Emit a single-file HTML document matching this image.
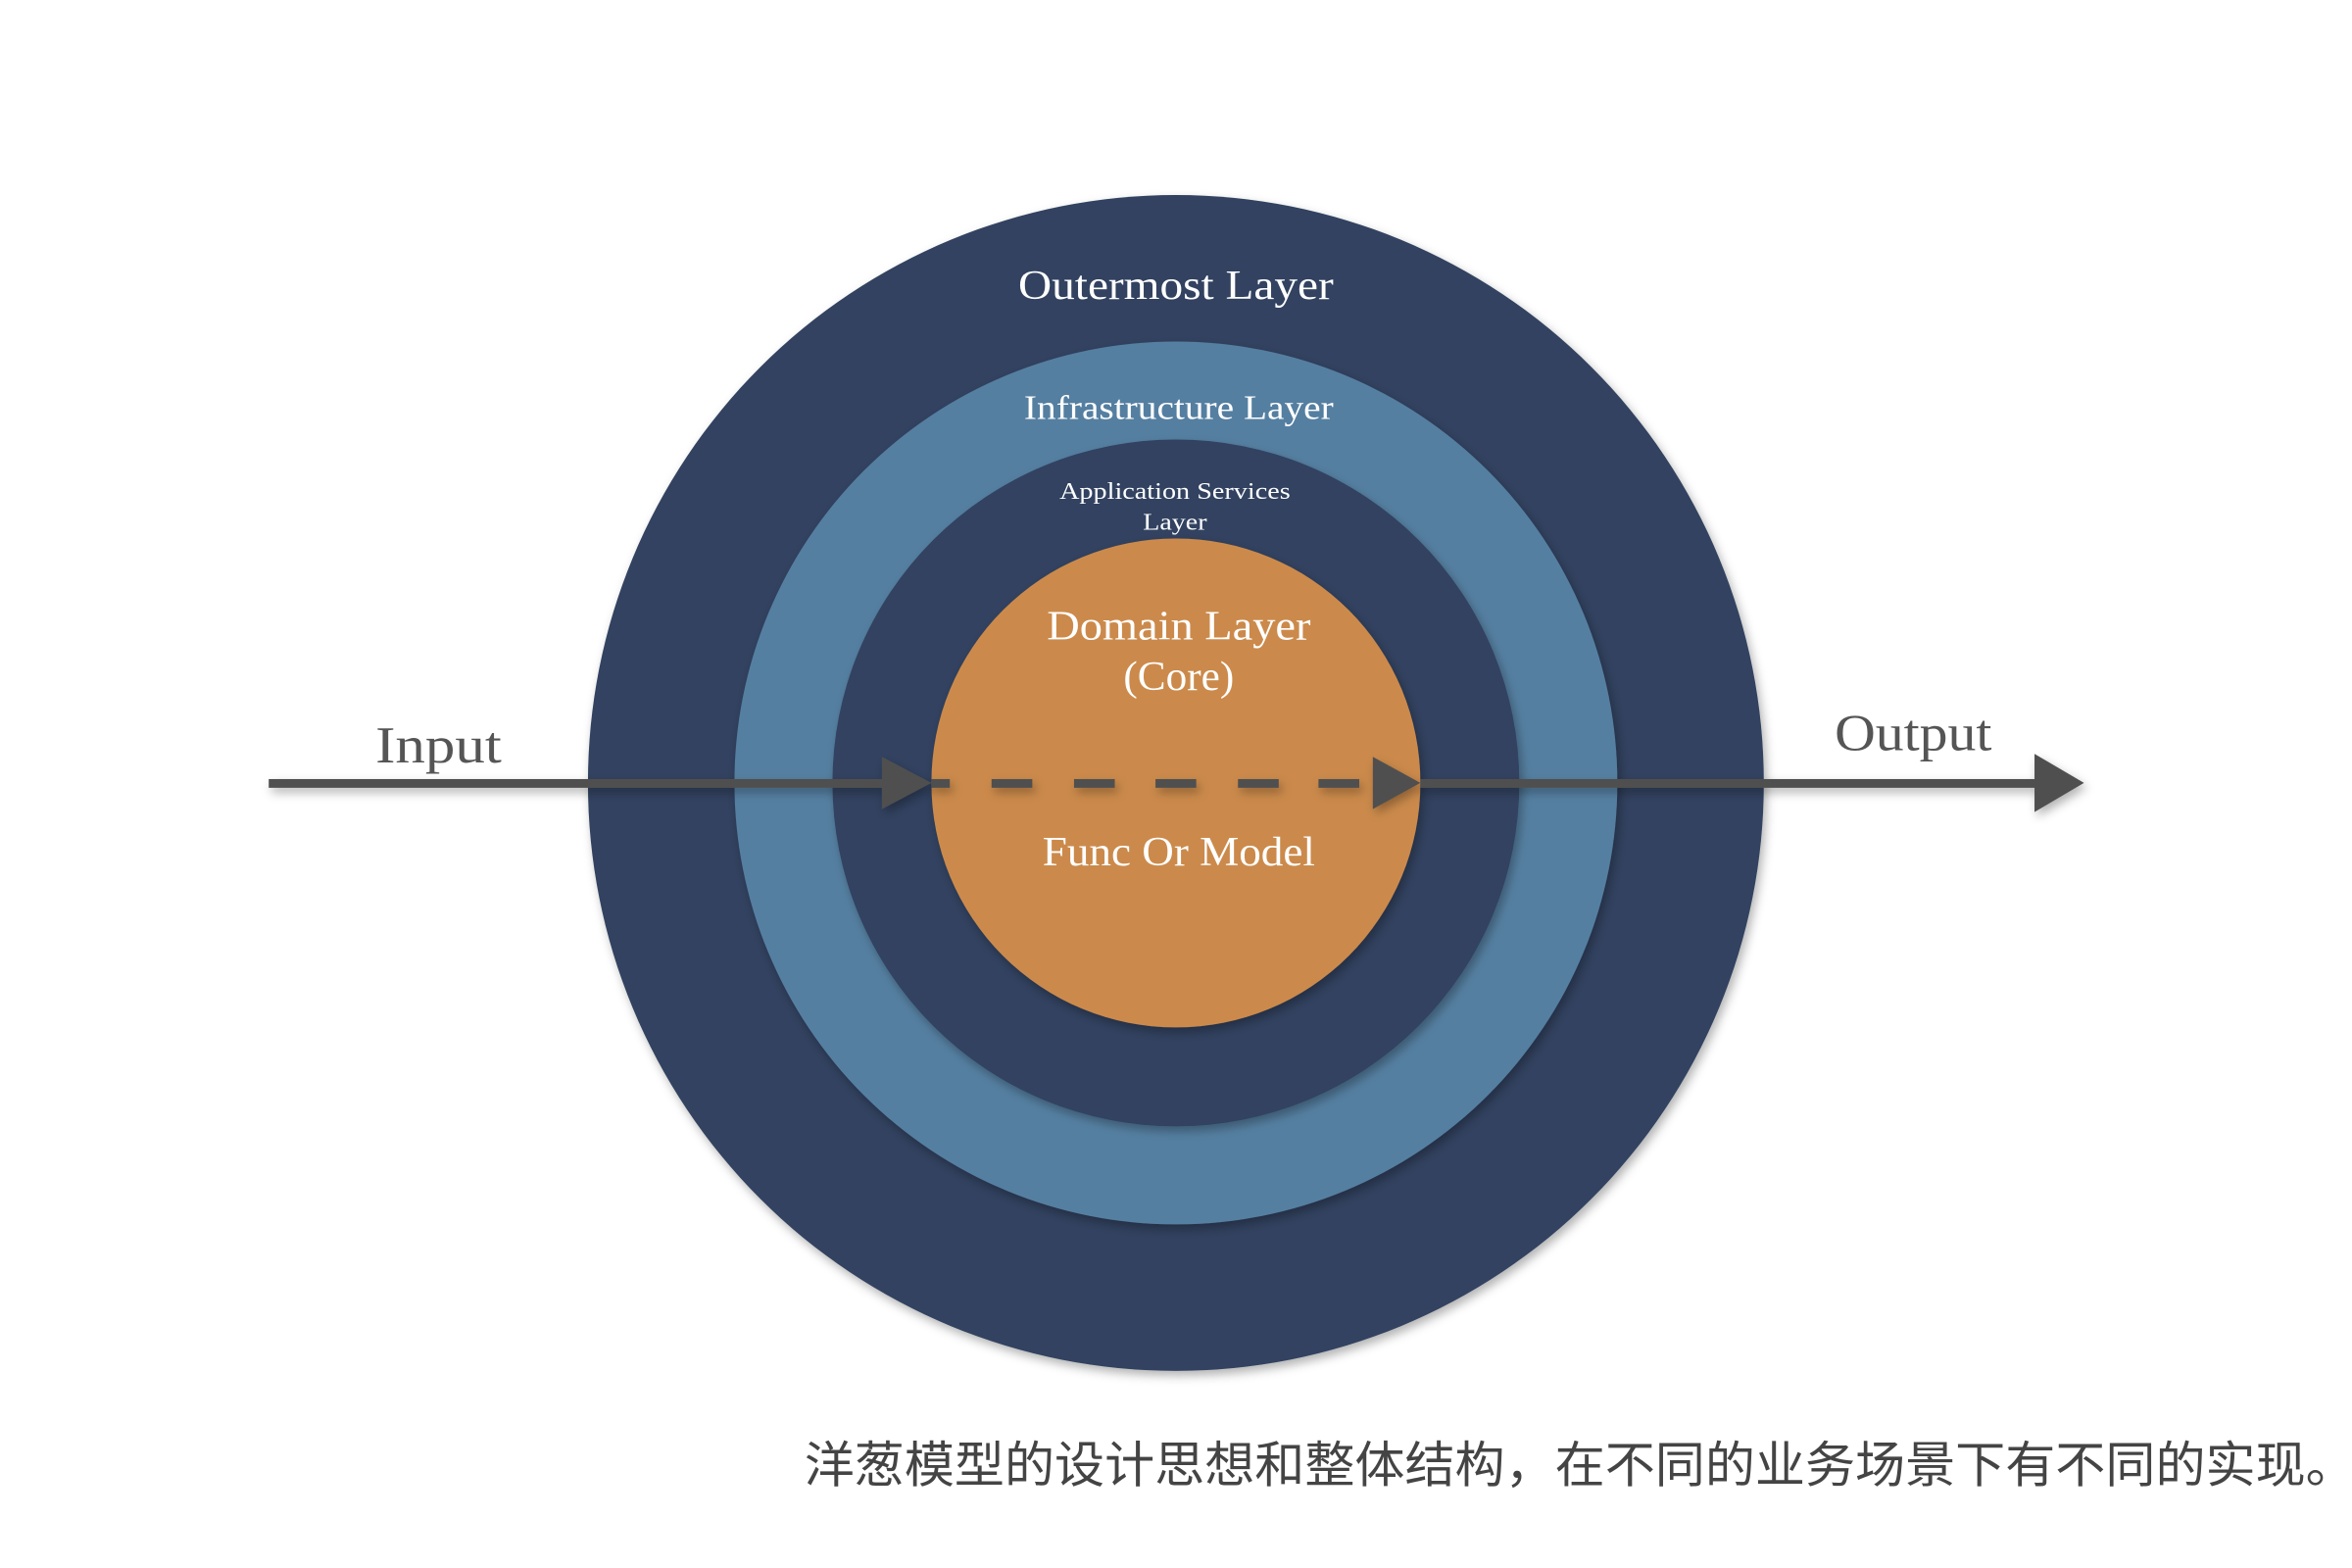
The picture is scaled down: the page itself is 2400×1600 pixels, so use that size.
<!DOCTYPE html>
<html><head><meta charset="utf-8"><style>
html,body{margin:0;padding:0;background:#fff;width:2400px;height:1600px;overflow:hidden}
</style></head><body>
<svg width="2400" height="1600" viewBox="0 0 2400 1600" xmlns="http://www.w3.org/2000/svg">
<defs>
<filter id="sh" x="-20%" y="-20%" width="140%" height="140%"><feDropShadow dx="3" dy="5" stdDeviation="5" flood-color="#000" flood-opacity="0.3"/></filter>
</defs>
<g transform="scale(0.99)">
<circle cx="1212" cy="807" r="606" fill="#324360" filter="url(#sh)"/>
<circle cx="1212" cy="807" r="455" fill="#557fa1" filter="url(#sh)"/>
<circle cx="1212" cy="807" r="354" fill="#324360" filter="url(#sh)"/>
<circle cx="1212" cy="807" r="252" fill="#cb8a4c" filter="url(#sh)"/>
<g fill="#505050" filter="url(#sh)">
<rect x="277" y="803" width="640" height="9"/>
<polygon points="909,780 960,807 909,834"/>
<rect x="960" y="803" width="19" height="9"/>
<rect x="1022" y="803" width="42" height="9"/>
<rect x="1107" y="803" width="42" height="9"/>
<rect x="1191" y="803" width="42" height="9"/>
<rect x="1276" y="803" width="42" height="9"/>
<rect x="1359" y="803" width="42" height="9"/>
<polygon points="1415,780 1464,807 1415,834"/>
<rect x="1464" y="803" width="640" height="9"/>
<polygon points="2097,777 2148,807 2097,837"/>
</g>
<g font-family="Liberation Serif, serif" fill="#fff" text-anchor="middle">
<text x="1212" y="308" font-size="43" textLength="325" lengthAdjust="spacingAndGlyphs">Outermost Layer</text>
<text x="1215" y="432" font-size="35" textLength="319" lengthAdjust="spacingAndGlyphs">Infrastructure Layer</text>
<text x="1211" y="514" font-size="25" textLength="238" lengthAdjust="spacingAndGlyphs">Application Services</text>
<text x="1211" y="546" font-size="25" textLength="66" lengthAdjust="spacingAndGlyphs">Layer</text>
<text x="1215" y="659" font-size="43" textLength="272" lengthAdjust="spacingAndGlyphs">Domain Layer</text>
<text x="1215" y="711" font-size="43" textLength="114" lengthAdjust="spacingAndGlyphs">(Core)</text>
<text x="1215" y="892" font-size="43" textLength="281" lengthAdjust="spacingAndGlyphs">Func Or Model</text>
</g>
<g font-family="Liberation Serif, serif" fill="#555" text-anchor="middle" font-size="53">
<text x="452" y="786" textLength="130" lengthAdjust="spacingAndGlyphs">Input</text>
<text x="1972" y="773" textLength="162" lengthAdjust="spacingAndGlyphs">Output</text>
</g>
<text x="829" y="1528" font-family="Liberation Sans, Noto Sans CJK SC, sans-serif" font-size="51" fill="#444" textLength="1599" lengthAdjust="spacingAndGlyphs">洋葱模型的设计思想和整体结构，在不同的业务场景下有不同的实现。</text>
</g>
</svg>
</body></html>
